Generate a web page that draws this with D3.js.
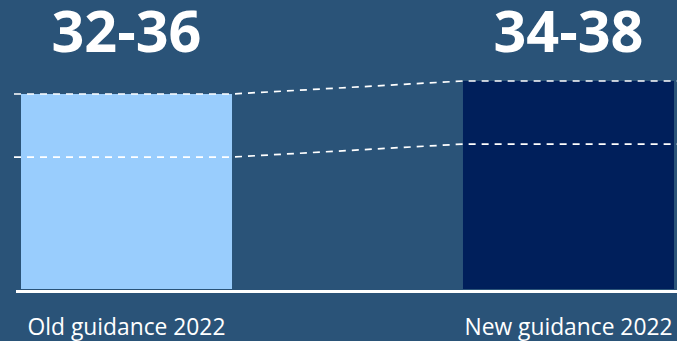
<!DOCTYPE html>
<html>
<head>
<meta charset="utf-8">
<script src="https://cdn.jsdelivr.net/npm/d3@7"></script>
<style>
  html, body { margin: 0; padding: 0; background: #2a5378; }
  svg { display: block; }
  text { font-family: "Open Sans", sans-serif; fill: #fff; }
</style>
</head>
<body>
<div id="chart"></div>
<script>
// ============ 数据 ============
const categories = ['Old guidance 2022', 'New guidance 2022'];
const rangeLabels = ['32-36', '34-38'];
const barValues = [36, 38];
// 两条虚线（读自图中位置）
const upperGuide = [36, 38];
const lowerGuide = [26.3, 28.3];

const width = 677;
const height = 341;

const svg = d3.select('#chart')
  .append('svg')
  .attr('width', width)
  .attr('height', height);

svg.append('rect')
  .attr('width', width)
  .attr('height', height)
  .attr('fill', '#2a5378');

const x = d3.scaleBand()
  .domain(categories)
  .range([21, 674])
  .paddingInner(0.5226)
  .paddingOuter(0);

const y = d3.scaleLinear()
  .domain([6, 40])
  .range([289, 68]);

// 柱子
svg.append('g')
  .selectAll('rect')
  .data(categories)
  .join('rect')
  .attr('x', d => x(d))
  .attr('y', (d, i) => y(barValues[i]))
  .attr('width', x.bandwidth())
  .attr('height', (d, i) => y(y.domain()[0]) - y(barValues[i]))
  .attr('fill', (d, i) => i === 0 ? '#99cdfd' : '#001f5b');

// 虚线
function guidePoints(vals) {
  const a = categories[0], b = categories[1];
  return [
    [14, y(vals[0])],
    [x(a) + x.bandwidth(), y(vals[0])],
    [x(b), y(vals[1])],
    [width, y(vals[1])]
  ];
}

const line = d3.line();
[upperGuide, lowerGuide].forEach(vals => {
  svg.append('path')
    .attr('d', line(guidePoints(vals)))
    .attr('fill', 'none')
    .attr('stroke', '#fff')
    .attr('stroke-width', 1.7)
    .attr('stroke-dasharray', '7,6');
});

// 基线
svg.append('line')
  .attr('x1', 16)
  .attr('x2', width)
  .attr('y1', y(y.domain()[0]) + 2.5)
  .attr('y2', y(y.domain()[0]) + 2.5)
  .attr('stroke', '#fff')
  .attr('stroke-width', 3);

// 顶部区间标签
svg.append('g')
  .selectAll('text')
  .data(categories)
  .join('text')
  .attr('x', d => x(d) + x.bandwidth() / 2)
  .attr('y', 52)
  .attr('text-anchor', 'middle')
  .attr('font-size', 57.5)
  .attr('font-weight', 'bold')
  .text((d, i) => rangeLabels[i]);

// 底部类别标签
svg.append('g')
  .selectAll('text')
  .data(categories)
  .join('text')
  .attr('x', d => x(d) + x.bandwidth() / 2)
  .attr('y', 335)
  .attr('text-anchor', 'middle')
  .attr('font-size', 22.8)
  .text(d => d);
</script>
</body>
</html>
